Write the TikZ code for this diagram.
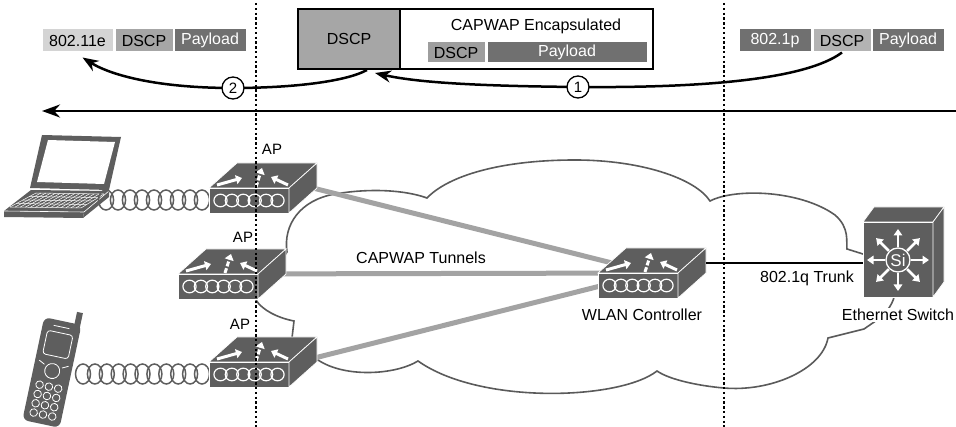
\documentclass[tikz,border=0pt]{standalone}
\usepackage{fontspec}
\setmainfont{Liberation Sans}
\usetikzlibrary{arrows.meta,calc,backgrounds}

\tikzset{
  toparrow/.style={white,line width=3,-{Triangle[length=6pt,width=9pt]}},
  face/.style={fill=devgrey,draw=white,line width=.7},
  % access point / controller box
  apbox/.pic={
    \path[face] (0,0) rectangle (80,25);
    \path[face] (0,0) -- (28,-25) -- (108,-25) -- (80,0) -- cycle;
    \path[face] (80,0) -- (108,-25) -- (108,0) -- (80,25) -- cycle;
    \foreach \i in {0,...,5}
      \draw[white,line width=1.2] (11.5+\i*11.4,12.5) ellipse (6.6 and 6.3);
    \draw[toparrow] (8,-3) -- (33,-10);
    \draw[toparrow] (79,-3) -- (62,-11);
    \draw[toparrow,dash pattern=on 5pt off 2pt] (47,-1) -- (53,-20);
    \coordinate (-f) at (40,12.5);
    \coordinate (-c) at (54,0);
    \coordinate (-t) at (54,-12.5);
    \coordinate (-e) at (108,-10);
  },
  % layer 3 switch
  l3switch/.pic={
    \path[face] (0,0) rectangle (70,75);
    \path[face] (0,0) -- (11,-15) -- (81,-15) -- (70,0) -- cycle;
    \path[face] (70,0) -- (81,-15) -- (81,60) -- (70,75) -- cycle;
    \foreach \a in {0,45,...,315}
      \draw[white,line width=2.6,-{Triangle[length=6.5pt,width=8.5pt]}] (35,38) ++(\a:13) -- ++(\a:18);
    \draw[white,line width=1.3] (35,38) circle (12);
    \node[white,font=\fontsize{17}{17}\selectfont] at (35,38) {Si};
    \coordinate (-w) at (0,41);
  }
}

\begin{document}
\begin{tikzpicture}[x=1pt,y=-1pt,
  pkt/.style={rectangle,draw=white,line width=1,inner sep=0pt,minimum height=23,font=\fontsize{16}{18}\selectfont},
  lbl/.style={font=\fontsize{16}{18}\selectfont,inner sep=1pt},
  num/.style={circle,draw,fill=white,line width=1.3,inner sep=0pt,minimum size=22,font=\fontsize{15}{16}\selectfont},
  flow/.style={line width=2.5,-{Stealth[length=16pt,width=12pt]}},
  tunnel/.style={tunnelgrey,line width=5},
  cable/.style={devgrey,line width=1.5},
  dotline/.style={line width=2.5,dash pattern=on 2.4pt off 2.4pt}]
\definecolor{devgrey}{HTML}{5E5E5E}
\definecolor{tunnelgrey}{HTML}{A3A3A3}
\definecolor{cloudline}{HTML}{5A5A5A}
\definecolor{pktlight}{HTML}{D4D4D4}
\definecolor{pktmid}{HTML}{A6A6A6}
\definecolor{pktdark}{HTML}{707070}
\useasboundingbox (0,0) rectangle (956,427);

% packets on the top line
\foreach \nm/\txt/\clr/\tclr/\xc/\bw in {l11e/802.11e/pktlight/black/77.5/71,
    ldscp/DSCP/pktmid/black/144/58, lpay/Payload/pktdark/white/210/72,
    r1p/802.1p/pktdark/white/775/72, rdscp/DSCP/pktmid!85/black/842/58,
    rpay/Payload/pktdark/white/908/72}
  {\node[pkt,fill=\clr,text=\tclr,minimum width=\bw] (\nm) at (\xc,40.5) {\txt};}

\node[draw,line width=2,minimum width=355,minimum height=60,inner sep=0pt] (capbox) at (475.5,39) {};
\node[lbl,draw,line width=2,fill=pktmid,minimum width=102,minimum height=60,inner sep=0pt] (bigdscp) at (349,39) {DSCP};
\node[lbl] (captitle) at (536,26) {CAPWAP Encapsulated};
\node[pkt,fill=pktmid!95!black,minimum width=58,minimum height=21] (cdscp) at (456,52.5) {DSCP};
\node[pkt,fill=pktdark,text=white,minimum width=160,minimum height=21] (cpay) at (567,52.5) {Payload};

\draw[flow] (rdscp.south) .. controls (805,80) and (700,88) .. (578,87) node[num] (c1) {1}
  .. controls (470,86) and (415,82) .. ([xshift=26,yshift=-3]bigdscp.south);
\draw[flow] ([xshift=18]bigdscp.south) .. controls (345,82) and (290,88) .. (233,88) node[num] (c2) {2}
  .. controls (160,88) and (112,76) .. ([xshift=5,yshift=-5]l11e.south);

\coordinate (flowR) at (956,111);
\coordinate (flowL) at (42,111);
\draw[line width=2.8,-{Stealth[length=18pt,width=13pt]}] (flowR) -- (flowL);

% laptop
\fill[devgrey] (42,135) -- (121,137) -- (109,190) -- (30,188) -- cycle;
\fill[white] (48,140) -- (115,142) -- (104,184) -- (37,182) -- cycle;
\fill[devgrey] (31,190) -- (109,191) -- (84,212) -- (4,211) -- cycle;
\fill[devgrey] (4,211) -- (84,212) -- (83,218) -- (4,217) -- cycle;
\fill[devgrey] (84,212) -- (109,191) -- (109,197) -- (83,218) -- cycle;
\draw[white,line width=.6] (4,211) -- (84,212) -- (109,191);
\coordinate (kb1) at (36,193);
\coordinate (kb2) at (104,194);
\coordinate (kb3) at (81,208);
\coordinate (kb4) at (10,207);
\foreach \i [evaluate=\i as \t using \i/4] in {0,...,4}
  \draw[white,line width=.5] ($(kb1)!\t!(kb4)$) -- ($(kb2)!\t!(kb3)$);
\foreach \i [evaluate=\i as \t using \i/14] in {0,...,14}
  \draw[white,line width=.5] ($(kb1)!\t!(kb2)$) -- ($(kb4)!\t!(kb3)$);

% handset
\begin{scope}[shift={(52,372)},rotate=-12]
  \fill[devgrey] (12,-64) rectangle (18,-48);
  \fill[devgrey,rounded corners=6] (-19,-52) rectangle (19,53);
  \draw[white,line width=.8,rounded corners=3] (-13,-40) rectangle (13,-16);
  \draw[white,line width=.8] (-8,-46) -- (8,-46);
  \draw[white,line width=.8] (0,-1) circle (7.5);
  \draw[white,line width=.8] (-15,-9) -- (-9,-6) (15,-9) -- (9,-6);
  \foreach \r in {0,...,3}
    \foreach \c in {-1,0,1}
      \draw[white,line width=.8] (\c*9.5,15+\r*9.5) circle (3.8);
\end{scope}

% radio links
\foreach \i in {0,...,8}
  \draw[cable] (106+\i*12,200) ellipse (7.6 and 10);
\foreach \i in {0,...,10}
  \draw[cable] (83+\i*11.9,374) ellipse (7.5 and 10);

\pic (ap1) at (209,188) {apbox};
\pic (ap2) at (178,274) {apbox};
\pic (ap3) at (209,362) {apbox};
\pic (ctrl) at (598,273) {apbox};
\pic (sw) at (863,222) {l3switch};

\begin{scope}[on background layer]
  \draw[cloudline,line width=1.6,fill=white]
    (287,252) .. controls (283,225) and (300,200) .. (335,194)
    .. controls (370,188) and (405,190) .. (427,198)
    .. controls (448,176) and (500,160) .. (575,160)
    .. controls (640,160) and (695,178) .. (710,201)
    .. controls (735,188) and (800,190) .. (835,215)
    .. controls (850,228) and (846,242) .. (847,249)
    -- (863,254) .. controls (905,275) and (900,300) .. (880,318)
    -- (864,329) -- (828,338)
    .. controls (822,370) and (770,392) .. (724,388)
    .. controls (700,386) and (670,380) .. (657,371)
    .. controls (620,400) and (480,405) .. (418,361)
    .. controls (395,375) and (345,378) .. (318,360)
    -- (292,338) -- (294,321)
    .. controls (278,318) and (262,310) .. (256,300)
    -- cycle;
  \draw[tunnel] (ap1-t) -- (ctrl-c);
  \draw[tunnel] (ap2-c) -- (ctrl-c);
  \draw[tunnel] (ap3-f) -- (ctrl-c);
\end{scope}
\draw[line width=2.2] (ctrl-e) -- (sw-w);

\node[lbl,font=\fontsize{15}{16}\selectfont] (ap1lbl) at (272,149) {AP};
\node[lbl,font=\fontsize{15}{16}\selectfont] (ap2lbl) at (243,237) {AP};
\node[lbl,font=\fontsize{15}{16}\selectfont] (ap3lbl) at (240,324) {AP};
\node[lbl] (tunlbl) at (421,258) {CAPWAP Tunnels};
\node[lbl] (trunklbl) at (807,278) {802.1q Trunk};
\node[lbl] (ctrllbl) at (642,315) {WLAN Controller};
\node[lbl,fill=white] (swlbl) at (898,315) {Ethernet Switch};

% domain borders
\draw[dotline] (256,3) -- (256,427);
\draw[dotline] (724,3) -- (724,427);
\end{tikzpicture}
\end{document}
